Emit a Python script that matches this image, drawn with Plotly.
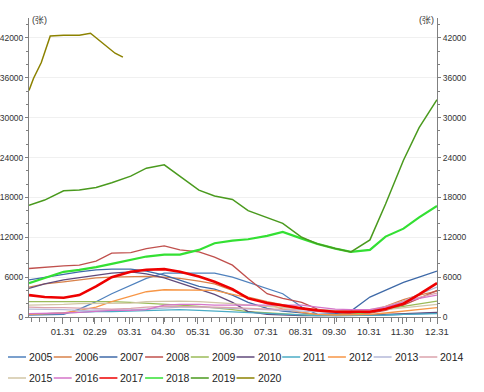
import plotly.graph_objects as go

DATES = ["2020-01-01", "2020-01-15", "2020-02-01", "2020-02-15", "2020-03-01", "2020-03-15",
         "2020-04-01", "2020-04-15", "2020-05-01", "2020-05-15", "2020-06-01", "2020-06-15",
         "2020-07-01", "2020-07-15", "2020-08-01", "2020-08-15", "2020-09-01", "2020-09-15",
         "2020-10-01", "2020-10-15", "2020-11-01", "2020-11-15", "2020-12-01", "2020-12-15",
         "2020-12-31"]
DATES_2020 = ["2020-01-01", "2020-01-05", "2020-01-12", "2020-01-20", "2020-02-01", "2020-02-15",
              "2020-02-25", "2020-03-01", "2020-03-10", "2020-03-18", "2020-03-25"]

Y2005 = [300, 300, 400, 1200, 2300, 3500, 4800, 5800, 6600, 6600, 6600, 6600, 6000, 5200, 4200, 3500, 1500, 400, 200, 200, 200, 300, 400, 500, 600]
Y2006 = [4500, 5000, 5300, 5600, 5900, 6000, 6100, 6100, 6000, 5800, 5400, 5000, 4000, 3000, 2300, 1800, 1300, 900, 600, 500, 800, 1600, 2600, 3300, 3900]
Y2007 = [5600, 6000, 6400, 6800, 7100, 7200, 7200, 6900, 6300, 5500, 4600, 4200, 3300, 2200, 1300, 900, 600, 400, 500, 900, 3000, 4000, 5200, 6000, 6900]
Y2008 = [7300, 7500, 7700, 7800, 8400, 9600, 9700, 10300, 10700, 10100, 9800, 9000, 7800, 5800, 3500, 2800, 2200, 1200, 700, 500, 600, 1000, 1800, 2800, 4000]
Y2009 = [2300, 2300, 2400, 2400, 2300, 2300, 2200, 2100, 2000, 1800, 1600, 1400, 1100, 800, 600, 400, 300, 300, 300, 400, 700, 1200, 1600, 2000, 2400]
Y2010 = [4300, 5000, 5600, 5900, 6300, 6600, 6800, 6500, 5900, 5100, 4100, 3400, 2200, 800, 400, 300, 200, 200, 200, 300, 300, 400, 500, 600, 700]
Y2011 = [400, 500, 600, 800, 800, 800, 900, 1000, 1100, 1100, 1000, 900, 800, 600, 500, 400, 300, 200, 200, 200, 300, 300, 400, 400, 500]
Y2012 = [400, 500, 600, 1000, 1500, 2300, 3100, 3800, 4100, 4100, 4100, 4000, 3400, 2900, 2000, 1200, 700, 400, 300, 300, 400, 600, 900, 1200, 1400]
Y2013 = [1200, 1200, 1100, 1000, 1000, 1000, 1100, 1200, 1400, 1500, 1500, 1400, 1300, 1200, 1100, 1000, 900, 800, 700, 700, 900, 1400, 2400, 3400, 4500]
Y2014 = [1500, 1400, 1400, 1300, 1200, 1200, 1300, 1500, 1600, 1600, 1500, 1500, 1400, 1300, 1200, 1200, 1200, 1100, 1000, 900, 1100, 1600, 2400, 3000, 3600]
Y2015 = [1800, 1800, 1900, 2000, 2000, 2000, 2100, 2300, 2400, 2400, 2300, 2200, 2000, 1800, 1600, 1400, 1200, 1000, 900, 800, 900, 1100, 1400, 1700, 1900]
Y2016 = [500, 500, 600, 700, 900, 1000, 1000, 1100, 1800, 1900, 1900, 1800, 1800, 1800, 1900, 1900, 1800, 1500, 1200, 1100, 1100, 1500, 2200, 2800, 3300]
Y2017 = [3300, 3000, 2900, 3300, 4600, 6000, 6800, 7100, 7200, 6800, 6100, 5300, 4200, 2800, 2100, 1700, 1300, 1000, 800, 800, 800, 1200, 2000, 3400, 5100]
Y2018 = [5100, 5900, 6800, 7100, 7500, 8000, 8600, 9100, 9400, 9400, 10100, 11100, 11500, 11700, 12200, 12800, 11800, 11000, 10300, 9800, 10100, 12100, 13300, 15000, 16700]
Y2019 = [16800, 17600, 19000, 19100, 19500, 20200, 21200, 22400, 22900, 21200, 19100, 18200, 17700, 16000, 15000, 14100, 12000, 11000, 10300, 9800, 11600, 17000, 23600, 28500, 32700]
Y2020 = [34100, 35900, 38300, 42300, 42400, 42400, 42700, 42000, 40800, 39700, 39100]

YEARS = ["2005", "2006", "2007", "2008", "2009", "2010", "2011", "2012",
         "2013", "2014", "2015", "2016", "2017", "2018", "2019", "2020"]
SERIES = [Y2005, Y2006, Y2007, Y2008, Y2009, Y2010, Y2011, Y2012,
          Y2013, Y2014, Y2015, Y2016, Y2017, Y2018, Y2019, Y2020]
COLORS = ["#4f81bd", "#d9824a", "#3f6aa8", "#c0504d", "#9bbb59", "#604a7b", "#4bacc6", "#f79646",
          "#b4b9d9", "#dba3ad", "#d2c6a6", "#d575c9", "#ee0000", "#33e033", "#4a9a1e", "#8c8200"]
WIDTHS = [1.3, 1.3, 1.3, 1.3, 1.3, 1.3, 1.3, 1.3, 1.3, 1.3, 1.3, 1.3, 2.6, 2.2, 1.5, 1.5]

TICK_DATES = ["2020-01-31", "2020-02-29", "2020-03-31", "2020-04-30", "2020-05-31", "2020-06-30",
              "2020-07-31", "2020-08-31", "2020-09-30", "2020-10-31", "2020-11-30", "2020-12-31"]
TICK_TEXT = ["01.31", "02.29", "03.31", "04.30", "05.31", "06.30",
             "07.31", "08.31", "09.30", "10.31", "11.30", "12.31"]
Y_TICKS = [0, 6000, 12000, 18000, 24000, 30000, 36000, 42000]
Y_TICK_TEXT = ["0", "6000", "12000", "18000", "24000", "30000", "36000", "42000"]
UNIT = "(张)"

FONT = "Liberation Sans, Arial, sans-serif"
AXIS_COLOR = "#808080"

fig = go.Figure()
for name, ys, col, w in zip(YEARS, SERIES, COLORS, WIDTHS):
    xs = DATES_2020 if name == "2020" else DATES
    fig.add_trace(go.Scatter(x=xs, y=ys, mode="lines", name=name,
                             line=dict(color=col, width=w), showlegend=False))

# invisible trace to carry the right axis
fig.add_trace(go.Scatter(x=[DATES[0]], y=[0], yaxis="y2", mode="lines",
                         line=dict(width=0), showlegend=False, hoverinfo="skip"))

L, R, T, B = 29, 47, 18, 75
W, H = 484, 392
PW, PH = W - L - R, H - T - B

def px_x(p):
    return (p - L) / PW

def px_y(p):
    return (H - B - p) / PH

yax = dict(range=[0, 45000], tickvals=Y_TICKS, ticktext=Y_TICK_TEXT, showline=True,
           linecolor=AXIS_COLOR, linewidth=1, ticks="outside", ticklen=3, tickcolor=AXIS_COLOR,
           tickfont=dict(family=FONT, size=8.5, color="#333333"),
           minor=dict(dtick=2000, ticks="outside", ticklen=2, tickcolor=AXIS_COLOR, showgrid=False),
           zeroline=False, automargin=False)

fig.update_layout(
    width=W, height=H, margin=dict(l=L, r=R, t=T, b=B, autoexpand=False),
    paper_bgcolor="white", plot_bgcolor="white",
    xaxis=dict(type="date", range=["2020-01-01", "2020-12-31"], tickvals=TICK_DATES,
               ticktext=TICK_TEXT, showline=True, linecolor=AXIS_COLOR, linewidth=1,
               ticks="outside", ticklen=6, tickcolor=AXIS_COLOR, showgrid=False,
               tickfont=dict(family=FONT, size=9.5, color="#333333"),
               minor=dict(dtick=7 * 86400000, tick0="2020-01-03", ticks="outside",
                          ticklen=4, tickcolor=AXIS_COLOR, showgrid=False),
               zeroline=False, automargin=False),
    yaxis=dict(**yax, showgrid=True, gridcolor="#f0f0f0", gridwidth=1, side="left"),
    yaxis2=dict(**yax, showgrid=False, overlaying="y", side="right", anchor="x"),
    showlegend=False,
)

# unit labels
fig.add_annotation(x=px_x(L + 1), y=px_y(20), xref="paper", yref="paper", text=UNIT,
                   showarrow=False, xanchor="left", yanchor="middle",
                   font=dict(family=FONT, size=9, color="#333333"))
fig.add_annotation(x=px_x(W - R - 1), y=px_y(20), xref="paper", yref="paper", text=UNIT,
                   showarrow=False, xanchor="right", yanchor="middle",
                   font=dict(family=FONT, size=9, color="#333333"))

# legend, two rows of ten
PITCH = 45.7
for i, (name, col) in enumerate(zip(YEARS, COLORS)):
    row, c = divmod(i, 10)
    tx = 28 + PITCH * c
    ty = 357 + 21 * row
    fig.add_shape(type="line", xref="paper", yref="paper",
                  x0=px_x(tx - 20), x1=px_x(tx - 2), y0=px_y(ty), y1=px_y(ty),
                  line=dict(color=col, width=1.5))
    fig.add_annotation(x=px_x(tx - 1), y=px_y(ty), xref="paper", yref="paper", text=name,
                       showarrow=False, xanchor="left", yanchor="middle",
                       font=dict(family=FONT, size=10.5, color="#222222"))

fig.write_html("out.html", post_script="document.body.style.margin='0';",
               config={"displayModeBar": False})
